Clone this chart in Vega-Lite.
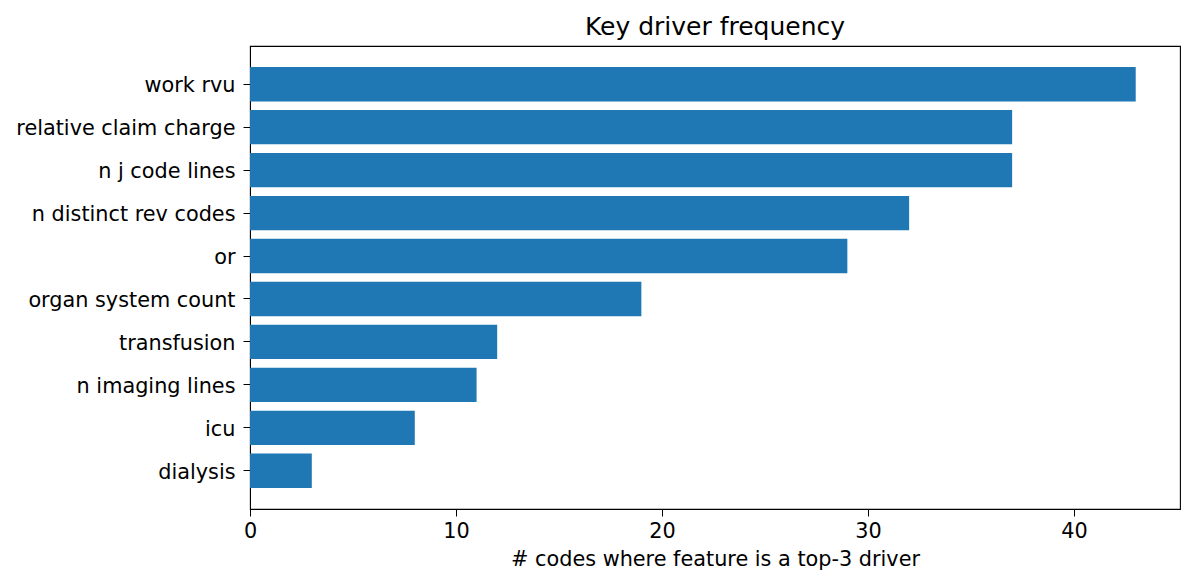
{
  "$schema": "https://vega.github.io/schema/vega-lite/v6.json",
  "width": 930,
  "height": 463,
  "autosize": {"type": "none"},
  "padding": {"left": 250, "top": 46, "right": 14, "bottom": 77},
  "title": {"text": "Key driver frequency", "font": "DejaVu Sans", "fontSize": 25, "fontWeight": "normal", "color": "black", "offset": 6},
  "data": {"values": [
    {"feature": "work rvu", "count": 43},
    {"feature": "relative claim charge", "count": 37},
    {"feature": "n j code lines", "count": 37},
    {"feature": "n distinct rev codes", "count": 32},
    {"feature": "or", "count": 29},
    {"feature": "organ system count", "count": 19},
    {"feature": "transfusion", "count": 12},
    {"feature": "n imaging lines", "count": 11},
    {"feature": "icu", "count": 8},
    {"feature": "dialysis", "count": 3}
  ]},
  "mark": {"type": "bar", "color": "#1f77b4"},
  "encoding": {
    "y": {"field": "feature", "type": "nominal", "sort": null,
      "scale": {"paddingInner": 0.2, "paddingOuter": 0.49},
      "axis": {"title": null, "labelPadding": 8, "labelLimit": 0, "labelOffset": 2}},
    "x": {"field": "count", "type": "quantitative",
      "scale": {"domain": [0, 45.15], "nice": false, "zero": true},
      "axis": {"values": [0, 10, 20, 30, 40], "title": "# codes where feature is a top-3 driver", "titlePadding": 9, "labelPadding": 5}}
  },
  "config": {
    "view": {"stroke": "black", "strokeWidth": 1.1},
    "axis": {"grid": false, "domainColor": "black", "tickColor": "black", "tickSize": 7, "labelColor": "black", "titleColor": "black",
      "labelFont": "DejaVu Sans", "titleFont": "DejaVu Sans", "labelFontSize": 20.8, "titleFontSize": 20.8, "titleFontWeight": "normal", "labelFlush": false}
  }
}
